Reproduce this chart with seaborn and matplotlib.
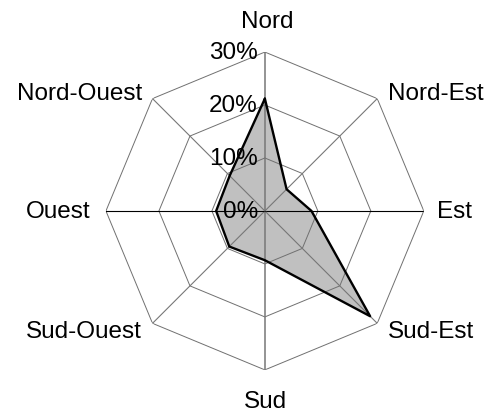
import numpy as np
import pandas as pd
import matplotlib
matplotlib.use('Agg')
import matplotlib.pyplot as plt
import seaborn as sns

directions = ["Nord", "Nord-Est", "Est", "Sud-Est", "Sud", "Sud-Ouest", "Ouest", "Nord-Ouest"]
frequences = [21.2, 5.8, 8.8, 28.1, 9.3, 9.5, 9.2, 9.4]
niveaux = [10, 20, 30]
etiquettes_valeurs = ["0%", "10%", "20%", "30%"]

sns.set_style("white")
plt.rcParams['font.family'] = ['Liberation Sans', 'DejaVu Sans']
plt.rcParams['text.color'] = 'black'

n = len(directions)
theta = np.arange(n) * 2 * np.pi / n
theta_closed = np.append(theta, 2 * np.pi)

df = pd.DataFrame({"theta": theta_closed, "freq": frequences + frequences[:1]})

fig = plt.figure(figsize=(4.86, 4.14), dpi=100)
ax = fig.add_axes([0.218, 0.104, 0.654, 0.768], projection='polar')
ax.set_theta_zero_location('N')
ax.set_theta_direction(-1)

# filled area first, grid on top of it
ax.fill(theta_closed, df["freq"], color='#c0c0c0', zorder=1, lw=0)

# octagon rings
for lvl in niveaux:
    ax.plot(theta_closed, [lvl] * (n + 1), color='#707070', lw=0.7, zorder=2)

# spokes
for i, t in enumerate(theta):
    col = '#777777'
    lw = 0.8
    r_end = 30
    if directions[i] in ("Est", "Ouest"):
        col = 'black'
    if directions[i] == "Nord" or directions[i] == "Sud":
        lw = 1.1
    if directions[i] in ("Sud", "Ouest"):
        r_end = 31.2
    ax.plot([t, t], [0, r_end], color=col, lw=lw, zorder=2)

sns.lineplot(data=df, x="theta", y="freq", sort=False, ax=ax, color='black', lw=1.7, zorder=3)

ax.set_ylim(0, 30)
ax.grid(False)
ax.spines['polar'].set_visible(False)
ax.set_xticks([])
ax.set_yticks([])
ax.set_xlabel("")
ax.set_ylabel("")

# direction labels
offsets = [(2, 31, 'center'), (11, 6, 'left'), (13, 0, 'left'), (11, -8, 'left'),
           (1, -31, 'center'), (-11, -8, 'right'), (-15, 0, 'right'), (-10, 6, 'right')]
for t, lab, (dx, dy, ha) in zip(theta, directions, offsets):
    ax.annotate(lab, xy=(t, 30), xytext=(dx, dy), textcoords='offset pixels',
                ha=ha, va='center', fontsize=17.5, color='black', annotation_clip=False)

# value labels
for lvl, lab in zip([0] + niveaux, etiquettes_valeurs):
    ax.annotate(lab, xy=(0, lvl), xytext=(-7, 0), textcoords='offset pixels',
                ha='right', va='center', fontsize=17.5, color='black', zorder=4)

fig.savefig("out.png", dpi=100)
